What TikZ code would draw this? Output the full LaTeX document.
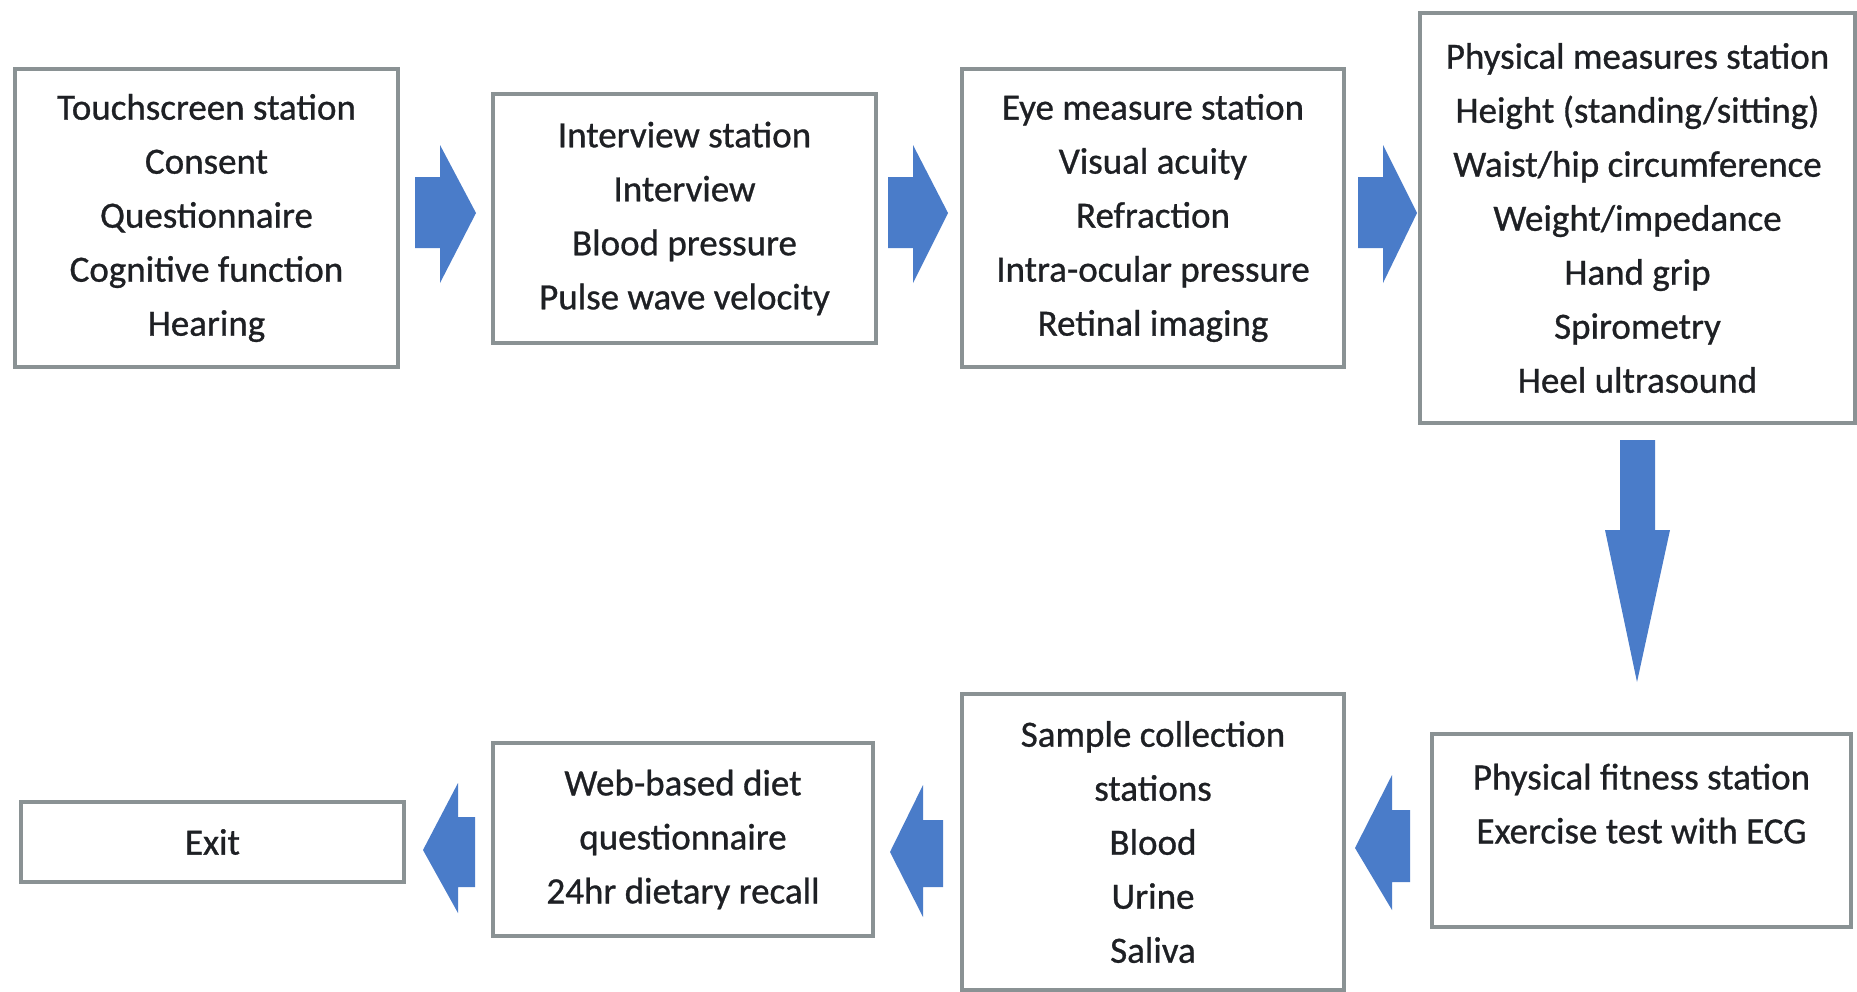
\documentclass[tikz,border=0pt]{standalone}
\usepackage{fontspec}
\setmainfont{Carlito}
\newfontfamily\boxfont{Carlito}[FakeBold=0.8]
\begin{document}
\begin{tikzpicture}[x=0.5pt,y=-0.5pt,
  box/.style={draw=boxgray, line width=2pt, fill=white, align=center, inner sep=0pt,
    text=textdark, font=\boxfont\fontsize{18.5}{27}\selectfont},
  barrow/.style={fill=arrowblue, draw=none}]
\definecolor{boxgray}{RGB}{138,146,148}
\definecolor{textdark}{RGB}{30,32,36}
\definecolor{arrowblue}{RGB}{74,124,201}
\useasboundingbox[fill=white] (0,0) rectangle (1857,991);

% boxes
\node[box, minimum width=191.5pt, minimum height=149pt] (touch) at (206.5,218)
  {Touchscreen station\\Consent\\Questionnaire\\Cognitive function\\Hearing};
\node[box, minimum width=191.5pt, minimum height=124.5pt] (interview) at (684.5,218.5)
  {Interview station\\Interview\\Blood pressure\\Pulse wave velocity};
\node[box, minimum width=191pt, minimum height=149pt] (eye) at (1153,218)
  {Eye measure station\\Visual acuity\\Refraction\\Intra-ocular pressure\\Retinal imaging};
\node[box, minimum width=217.5pt, minimum height=205pt] (phys) at (1637.5,218)
  {Physical measures station\\Height (standing/sitting)\\Waist/hip circumference\\Weight/impedance\\Hand grip\\Spirometry\\Heel ultrasound};
\node[box, minimum width=209.5pt, minimum height=96.5pt] (fit) at (1641.5,830.5)
  {Physical fitness station\\Exercise test with ECG\\\mbox{}};
\node[box, minimum width=191pt, minimum height=148pt] (sample) at (1153,842)
  {Sample collection\\stations\\Blood\\Urine\\Saliva};
\node[box, minimum width=190pt, minimum height=96.5pt] (web) at (683,839.5)
  {Web-based diet\\questionnaire\\24hr dietary recall};
\node[box, minimum width=191.5pt, minimum height=40pt] (exit) at (212.5,842)
  {Exit};

% block arrows
\fill[barrow] (415,177) -- (440,177) -- (440,145) -- (476,213) -- (440,283) -- (440,248) -- (415,248) -- cycle;
\fill[barrow] (888,177) -- (913,177) -- (913,145) -- (948,213) -- (913,283) -- (913,248) -- (888,248) -- cycle;
\fill[barrow] (1358,177) -- (1383,177) -- (1383,145) -- (1417,213) -- (1383,283) -- (1383,248) -- (1358,248) -- cycle;
\fill[barrow] (1620,440) -- (1655,440) -- (1655,530) -- (1670,530) -- (1637,682) -- (1605,530) -- (1620,530) -- cycle;
\fill[barrow] (1410,810) -- (1392,810) -- (1392,775) -- (1355,848) -- (1392,910) -- (1392,882) -- (1410,882) -- cycle;
\fill[barrow] (943,820) -- (923,820) -- (923,785) -- (890,852) -- (923,917) -- (923,887) -- (943,887) -- cycle;
\fill[barrow] (475,817) -- (458,817) -- (458,783) -- (423,850) -- (458,913) -- (458,887) -- (475,887) -- cycle;
\end{tikzpicture}
\end{document}
